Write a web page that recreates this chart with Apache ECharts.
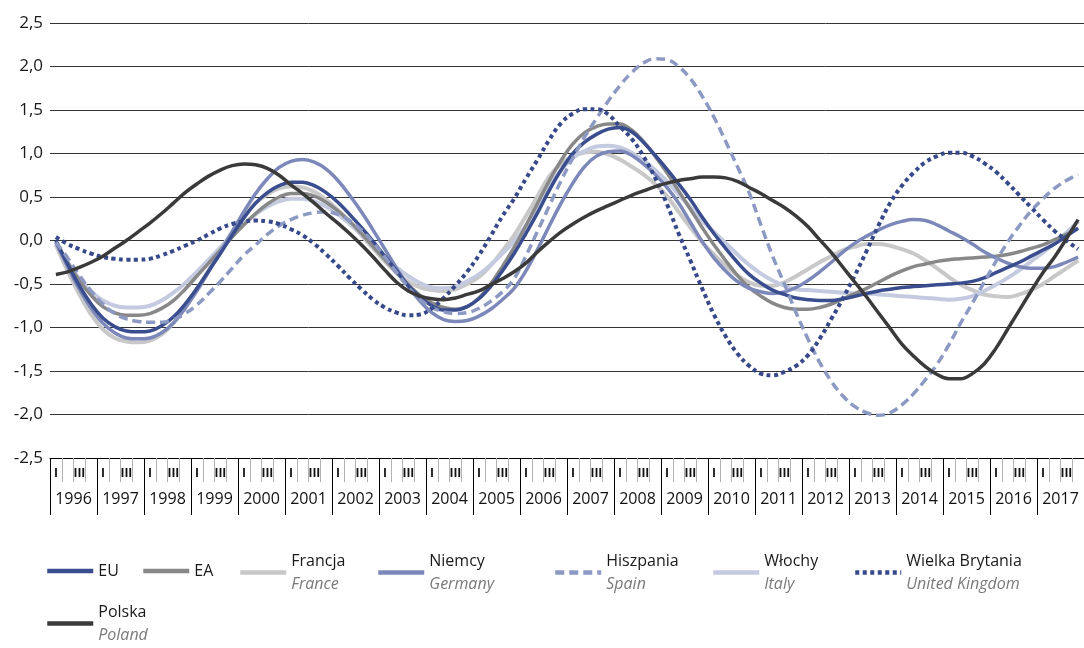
<!DOCTYPE html>
<html>
<head>
<meta charset="utf-8">
<script src="https://cdn.jsdelivr.net/npm/echarts@6/dist/echarts.min.js"></script>
<style>
  html, body { margin: 0; padding: 0; background: #fff; }
  #chart { width: 1084px; height: 648px; }
</style>
</head>
<body>
<div id="chart"></div>
<script>
// lata na osi X (kwartały I-IV w każdym roku)
const years = ['1996','1997','1998','1999','2000','2001','2002','2003','2004','2005','2006',
               '2007','2008','2009','2010','2011','2012','2013','2014','2015','2016','2017'];
const quarterMarks = ['I', '', 'III', ''];

// wartości kwartalne 1996 I - 2017 IV
const euValues = [
  0.00, -0.27, -0.52, -0.73, -0.89, -0.99, -1.04, -1.05,
  -1.04, -0.98, -0.88, -0.73, -0.55, -0.35, -0.15, 0.06,
  0.26, 0.43, 0.55, 0.63, 0.67, 0.67, 0.63, 0.55,
  0.44, 0.30, 0.15, -0.01, -0.18, -0.35, -0.52, -0.65,
  -0.75, -0.80, -0.80, -0.76, -0.67, -0.53, -0.35, -0.15,
  0.08, 0.32, 0.58, 0.81, 1.00, 1.13, 1.22, 1.28,
  1.30, 1.25, 1.13, 0.98, 0.82, 0.65, 0.47, 0.27,
  0.08, -0.09, -0.25, -0.39, -0.49, -0.57, -0.62, -0.66,
  -0.68, -0.69, -0.69, -0.67, -0.64, -0.61, -0.58, -0.56,
  -0.54, -0.53, -0.52, -0.51, -0.50, -0.49, -0.47, -0.43,
  -0.37, -0.31, -0.25, -0.18, -0.11, -0.04, 0.05, 0.14
];
const eaValues = [
  -0.02, -0.25, -0.46, -0.63, -0.76, -0.83, -0.86, -0.86,
  -0.84, -0.78, -0.69, -0.56, -0.41, -0.26, -0.11, 0.04,
  0.18, 0.31, 0.42, 0.50, 0.54, 0.54, 0.51, 0.44,
  0.34, 0.22, 0.08, -0.07, -0.22, -0.37, -0.51, -0.63,
  -0.72, -0.77, -0.79, -0.76, -0.66, -0.50, -0.30, -0.08,
  0.17, 0.43, 0.69, 0.92, 1.11, 1.24, 1.31, 1.34,
  1.34, 1.27, 1.14, 0.97, 0.78, 0.57, 0.36, 0.15,
  -0.05, -0.23, -0.40, -0.54, -0.64, -0.72, -0.77, -0.79,
  -0.79, -0.77, -0.73, -0.67, -0.61, -0.55, -0.48, -0.41,
  -0.35, -0.30, -0.27, -0.24, -0.22, -0.21, -0.20, -0.19,
  -0.18, -0.16, -0.13, -0.09, -0.05, 0.01, 0.07, 0.14
];
const franceValues = [
  -0.05, -0.35, -0.62, -0.85, -1.02, -1.12, -1.16, -1.17,
  -1.15, -1.08, -0.95, -0.77, -0.56, -0.34, -0.11, 0.10,
  0.28, 0.43, 0.53, 0.60, 0.62, 0.61, 0.56, 0.47,
  0.35, 0.21, 0.06, -0.09, -0.24, -0.37, -0.47, -0.54,
  -0.57, -0.58, -0.56, -0.50, -0.42, -0.29, -0.12, 0.06,
  0.28, 0.51, 0.74, 0.88, 0.97, 1.01, 1.02, 0.99,
  0.93, 0.85, 0.76, 0.65, 0.51, 0.33, 0.15, -0.02,
  -0.16, -0.29, -0.40, -0.48, -0.52, -0.52, -0.48, -0.41,
  -0.33, -0.25, -0.18, -0.11, -0.07, -0.04, -0.04, -0.06,
  -0.10, -0.15, -0.23, -0.32, -0.42, -0.51, -0.57, -0.62,
  -0.64, -0.65, -0.62, -0.57, -0.50, -0.41, -0.32, -0.23
];
const germanyValues = [
  -0.02, -0.30, -0.56, -0.78, -0.95, -1.06, -1.12, -1.13,
  -1.12, -1.06, -0.95, -0.78, -0.58, -0.36, -0.13, 0.10,
  0.33, 0.54, 0.71, 0.84, 0.91, 0.93, 0.90, 0.82,
  0.69, 0.52, 0.33, 0.12, -0.10, -0.32, -0.53, -0.70,
  -0.83, -0.91, -0.93, -0.92, -0.87, -0.79, -0.68, -0.55,
  -0.35, -0.10, 0.17, 0.43, 0.66, 0.85, 0.97, 1.02,
  1.03, 0.98, 0.88, 0.76, 0.61, 0.43, 0.21, -0.01,
  -0.20, -0.35, -0.47, -0.55, -0.59, -0.61, -0.59, -0.54,
  -0.46, -0.36, -0.25, -0.13, -0.03, 0.05, 0.12, 0.18,
  0.22, 0.24, 0.23, 0.18, 0.11, 0.04, -0.04, -0.13,
  -0.20, -0.26, -0.30, -0.32, -0.32, -0.30, -0.25, -0.19
];
const spainValues = [
  -0.02, -0.20, -0.40, -0.58, -0.73, -0.84, -0.90, -0.93,
  -0.94, -0.94, -0.91, -0.84, -0.74, -0.61, -0.47, -0.32,
  -0.17, -0.05, 0.07, 0.17, 0.24, 0.29, 0.32, 0.33,
  0.30, 0.23, 0.12, -0.02, -0.19, -0.37, -0.54, -0.68,
  -0.77, -0.82, -0.84, -0.83, -0.78, -0.70, -0.59, -0.44,
  -0.18, 0.11, 0.40, 0.69, 0.95, 1.19, 1.40, 1.60,
  1.78, 1.93, 2.04, 2.09, 2.08, 2.00, 1.86, 1.66,
  1.42, 1.14, 0.85, 0.55, 0.18, -0.18, -0.50, -0.83,
  -1.13, -1.40, -1.62, -1.79, -1.91, -1.98, -2.01, -1.98,
  -1.89, -1.76, -1.60, -1.42, -1.20, -0.95, -0.72, -0.48,
  -0.24, -0.02, 0.17, 0.34, 0.48, 0.60, 0.69, 0.76
];
const italyValues = [
  -0.04, -0.25, -0.44, -0.59, -0.69, -0.75, -0.77, -0.77,
  -0.75, -0.69, -0.60, -0.49, -0.36, -0.22, -0.08, 0.06,
  0.19, 0.30, 0.39, 0.45, 0.48, 0.48, 0.45, 0.39,
  0.30, 0.19, 0.07, -0.06, -0.19, -0.31, -0.41, -0.49,
  -0.54, -0.55, -0.53, -0.47, -0.39, -0.28, -0.15, -0.01,
  0.17, 0.40, 0.62, 0.81, 0.95, 1.03, 1.08, 1.09,
  1.07, 1.01, 0.92, 0.81, 0.68, 0.53, 0.38, 0.23,
  0.10, -0.03, -0.16, -0.28, -0.38, -0.46, -0.52, -0.56,
  -0.57, -0.58, -0.59, -0.60, -0.61, -0.61, -0.62, -0.63,
  -0.64, -0.65, -0.66, -0.67, -0.68, -0.67, -0.64, -0.58,
  -0.51, -0.43, -0.34, -0.24, -0.14, -0.03, 0.09, 0.22
];
const ukValues = [
  0.04, -0.04, -0.10, -0.15, -0.19, -0.21, -0.22, -0.22,
  -0.21, -0.17, -0.12, -0.06, 0.00, 0.07, 0.14, 0.19,
  0.22, 0.23, 0.22, 0.19, 0.13, 0.06, -0.04, -0.16,
  -0.29, -0.43, -0.56, -0.68, -0.77, -0.83, -0.86, -0.85,
  -0.78, -0.66, -0.52, -0.36, -0.17, 0.05, 0.28, 0.48,
  0.71, 0.93, 1.16, 1.35, 1.46, 1.51, 1.51, 1.45,
  1.31, 1.17, 0.97, 0.72, 0.42, 0.08, -0.23, -0.55,
  -0.85, -1.10, -1.30, -1.44, -1.53, -1.55, -1.51, -1.44,
  -1.32, -1.13, -0.90, -0.66, -0.40, -0.12, 0.17, 0.43,
  0.63, 0.78, 0.90, 0.97, 1.01, 1.01, 0.97, 0.89,
  0.79, 0.66, 0.52, 0.38, 0.24, 0.11, 0.00, -0.10
];
const polandValues = [
  -0.39, -0.36, -0.31, -0.25, -0.18, -0.09, 0.00, 0.10,
  0.20, 0.31, 0.43, 0.55, 0.65, 0.74, 0.81, 0.86,
  0.88, 0.87, 0.83, 0.75, 0.64, 0.54, 0.43, 0.31,
  0.20, 0.08, -0.05, -0.19, -0.34, -0.48, -0.58, -0.64,
  -0.67, -0.68, -0.66, -0.62, -0.58, -0.51, -0.44, -0.36,
  -0.26, -0.13, -0.01, 0.10, 0.19, 0.27, 0.34, 0.40,
  0.46, 0.52, 0.57, 0.62, 0.66, 0.69, 0.71, 0.73,
  0.73, 0.72, 0.68, 0.61, 0.54, 0.46, 0.38, 0.28,
  0.16, 0.01, -0.14, -0.31, -0.48, -0.65, -0.83, -1.01,
  -1.19, -1.33, -1.45, -1.54, -1.59, -1.59, -1.53, -1.42,
  -1.24, -1.02, -0.80, -0.58, -0.37, -0.19, 0.02, 0.24
];

const englishNames = {
  'Francja': 'France', 'Niemcy': 'Germany', 'Hiszpania': 'Spain',
  'Włochy': 'Italy', 'Wielka Brytania': 'United Kingdom', 'Polska': 'Poland'
};

const quarters = [];
years.forEach(y => { for (let q = 1; q <= 4; q++) quarters.push(y + ' Q' + q); });

const FONT = '"Open Sans", "Noto Sans", sans-serif';

function line(name, data, color, width, type, z) {
  return {
    name: name, type: 'line', data: data, smooth: 0.4, symbol: 'none', z: z,
    xAxisIndex: 0,
    itemStyle: { color: color },
    lineStyle: { color: color, width: width, type: type || 'solid', cap: 'butt' }
  };
}

function legendItem(name, left, top) {
  return {
    data: [name], left: left, top: top, padding: 0,
    itemWidth: 46, itemHeight: 14, selectedMode: false,
    itemStyle: { opacity: 0 },   // bez kółka na środku ikony
    lineStyle: { width: 4.5 },
    formatter: function (n) {
      return englishNames[n] ? '{a|' + n + '}\n{b|' + englishNames[n] + '}' : '{a|' + n + '}';
    },
    textStyle: {
      fontFamily: FONT, fontSize: 16, color: '#1a1a1a',
      rich: {
        a: { fontFamily: FONT, fontSize: 16, color: '#1a1a1a', lineHeight: 23 },
        b: { fontFamily: FONT, fontSize: 16, color: '#7a7a7a', fontStyle: 'italic', lineHeight: 23 }
      }
    }
  };
}

const chart = echarts.init(document.getElementById('chart'));
chart.setOption({
  animation: false,
  backgroundColor: '#fff',
  grid: { left: 50, right: -4, top: 23, bottom: 190 },
  legend: [
    legendItem('EU', 45, 563),
    legendItem('EA', 141, 563),
    legendItem('Francja', 238, 553),
    legendItem('Niemcy', 376, 553),
    legendItem('Hiszpania', 553, 553),
    legendItem('Włochy', 711, 553),
    legendItem('Wielka Brytania', 853, 553),
    legendItem('Polska', 45, 604)
  ],
  xAxis: [
    {
      type: 'category', data: quarters, boundaryGap: true,
      axisLine: { show: true, onZero: false, lineStyle: { color: '#000', width: 1 } },
      axisTick: { show: true, interval: 0, length: 24, lineStyle: { color: '#b3b3b3', width: 1 } },
      axisLabel: {
        interval: 0, margin: 10, fontFamily: FONT, fontSize: 12, fontWeight: 'bold', color: '#111',
        formatter: function (v, i) { return quarterMarks[i % 4]; }
      },
      splitLine: { show: false }
    },
    {
      type: 'category', data: years, position: 'bottom', boundaryGap: true,
      axisLine: { show: false, onZero: false },
      axisTick: { show: true, interval: 0, length: 57, lineStyle: { color: '#000', width: 1 } },
      axisLabel: { interval: 0, margin: 33, fontFamily: FONT, fontSize: 16, color: '#111' },
      splitLine: { show: false }
    }
  ],
  yAxis: {
    type: 'value', min: -2.5, max: 2.5, interval: 0.5,
    axisLine: { show: false }, axisTick: { show: false },
    splitLine: { lineStyle: { color: '#333', width: 1 } },
    axisLabel: {
      margin: 7, fontFamily: FONT, fontSize: 17, color: '#1a1a1a',
      formatter: function (v) { return v.toFixed(1).replace('.', ','); }
    }
  },
  series: [
    line('Francja', franceValues, '#c8c8c8', 4, 'solid', 2),
    line('Włochy', italyValues, '#c4cadf', 4, 'solid', 3),
    line('EA', eaValues, '#888888', 3.5, 'solid', 4),
    line('Niemcy', germanyValues, '#7b88b9', 3.5, 'solid', 5),
    line('EU', euValues, '#3a4d8e', 3.5, 'solid', 6),
    line('Hiszpania', spainValues, '#8c99c3', 3.5, [9, 5], 7),
    line('Wielka Brytania', ukValues, '#37498b', 4, [4, 3.5], 8),
    line('Polska', polandValues, '#3a3a3a', 3.5, 'solid', 9)
  ]
});
</script>
</body>
</html>
